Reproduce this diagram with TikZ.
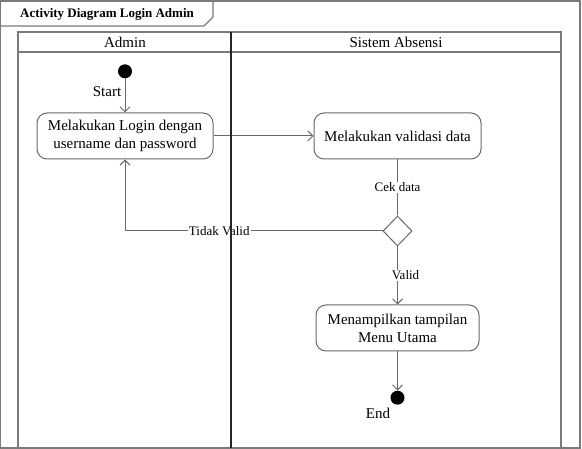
\documentclass[tikz,border=0pt]{standalone}
\usepackage{fontspec}
\setmainfont{Liberation Serif}
\usepackage{tikz}
\usetikzlibrary{arrows.meta,positioning,shapes.geometric}
\definecolor{linegray}{HTML}{686868}
\definecolor{framegray}{HTML}{7A7A7A}

\begin{document}
\begin{tikzpicture}[x=1pt, y=-1pt,
  act/.style={draw=linegray, line width=1pt, rounded corners=10pt, minimum height=46pt,
              inner sep=2pt, align=center, font=\fontsize{15}{18}\selectfont},
  dot/.style={circle, fill=black, minimum size=14pt, inner sep=0pt},
  decide/.style={diamond, draw=linegray, line width=1pt, minimum width=29pt,
                 minimum height=30pt, inner sep=0pt},
  arr/.style={-{Straight Barb[length=5pt,width=10pt]}, draw=linegray, line width=1pt},
  flow/.style={draw=linegray, line width=1pt},
  lab/.style={fill=white, inner sep=1pt, font=\fontsize{13}{15}\selectfont},
  txt/.style={inner sep=0pt, font=\fontsize{15}{18}\selectfont}
]
\useasboundingbox (0,0) rectangle (582,449);

% frame and title tab
\draw[framegray, line width=1.2pt] (0.6,1) rectangle (580,448);
\draw[framegray, line width=1.2pt] (0.6,26) -- (204,26) -- (213,17) -- (213,1);
\node[inner sep=0pt, anchor=west, font=\bfseries\fontsize{13}{15}\selectfont]
  (title) at (20,14) {Activity Diagram Login Admin};

% lane headers
\node[txt] (hadmin)  at (125,42) {Admin};
\node[txt] (hsistem) at (396,42) {Sistem Absensi};

% activities
\node[act, minimum width=176pt] (login) at (125,136) {Melakukan Login dengan\\username dan password};
\node[act, minimum width=167pt, right=100pt of login] (val) {Melakukan validasi data};
\node[decide, below=56pt of val] (dec) {};
\node[act, minimum width=163pt, below=58pt of dec] (menu) {Menampilkan tampilan\\Menu Utama};
\node[dot, above=34pt of login] (start) {};
\node[dot, below=39pt of menu] (end) {};
\node[txt] (startlab) at (107,92) {Start};
\node[txt] (endlab) at (378,413) {End};

% flows
\draw[arr] (start) -- (login);
\draw[arr] (login) -- (val);
\draw[flow] (val) -- node[lab] {Cek data} (dec);
\draw[arr] (dec) -- node[lab, xshift=8pt] {Valid} (menu);
\draw[arr] (dec.west) -| node[lab, pos=0.317] {Tidak Valid} (login.south);
\draw[arr] (menu) -- (end);

% swimlanes
\draw[framegray, line width=1.2pt] (18,32) rectangle (561,448);
\draw[framegray, line width=1.2pt] (18,52) -- (561,52);
\draw[black!85, line width=1.1pt] (231,32) -- (231,448);
\end{tikzpicture}
\end{document}
